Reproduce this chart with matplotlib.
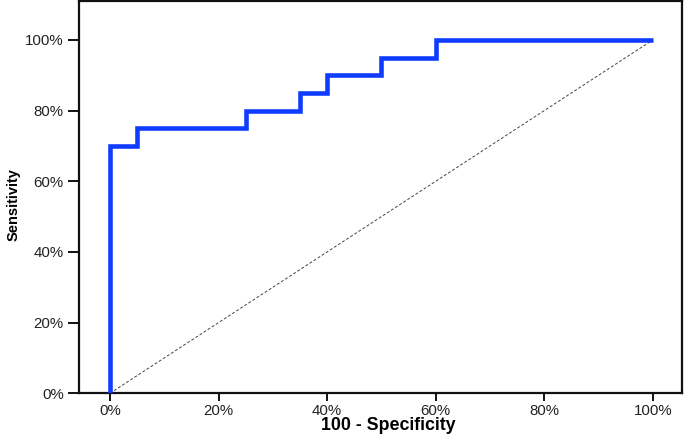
import matplotlib
matplotlib.use("Agg")
import matplotlib.pyplot as plt
from matplotlib.ticker import FuncFormatter

# ROC step curve (100 - specificity, sensitivity), in percent
fpr = [0, 0, 5, 5, 25, 25, 35, 35, 40, 40, 50, 50, 60, 60, 100]
tpr = [0, 70, 70, 75, 75, 80, 80, 85, 85, 90, 90, 95, 95, 100, 100]
ref_x = [0, 100]
ref_y = [0, 100]
x_ticks = [0, 20, 40, 60, 80, 100]
y_ticks = [0, 20, 40, 60, 80, 100]

plt.rcParams['font.family'] = ['Liberation Sans', 'DejaVu Sans']

fig = plt.figure(figsize=(6.85, 4.34), dpi=100)
ax = fig.add_axes([0.1153, 0.0938, 0.8800, 0.9040])

ax.plot(ref_x, ref_y, color="#444444", lw=0.7, ls=(0, (3, 2)), zorder=2)
ax.plot(fpr, tpr, color="#0f3cff", lw=3.3, solid_joinstyle='miter',
        solid_capstyle='butt', zorder=3)

ax.set_xlim(-5.7, 105.3)
ax.set_ylim(0, 111)
ax.set_xticks(x_ticks)
ax.set_yticks(y_ticks)
pct = FuncFormatter(lambda v, p: f"{v:.0f}%")
ax.xaxis.set_major_formatter(pct)
ax.yaxis.set_major_formatter(pct)

for s in ax.spines.values():
    s.set_linewidth(1.6)
    s.set_color("#111111")
ax.tick_params(axis='both', direction='out', width=1.4, color="#111111",
               labelsize=10.8, labelcolor="#222222")
ax.tick_params(axis='y', length=8, pad=3)
ax.tick_params(axis='x', length=6, pad=1.5)

ax.set_xlabel("100 - Specificity", fontsize=12.8, fontweight='bold', va='center')
ax.xaxis.set_label_coords(0.513, -0.082)
ax.set_ylabel("Sensitivity", fontsize=10.5, fontweight='bold', va='center')
ax.yaxis.set_label_coords(-0.108, 0.48)

fig.savefig("out.png", dpi=100, facecolor="white")
